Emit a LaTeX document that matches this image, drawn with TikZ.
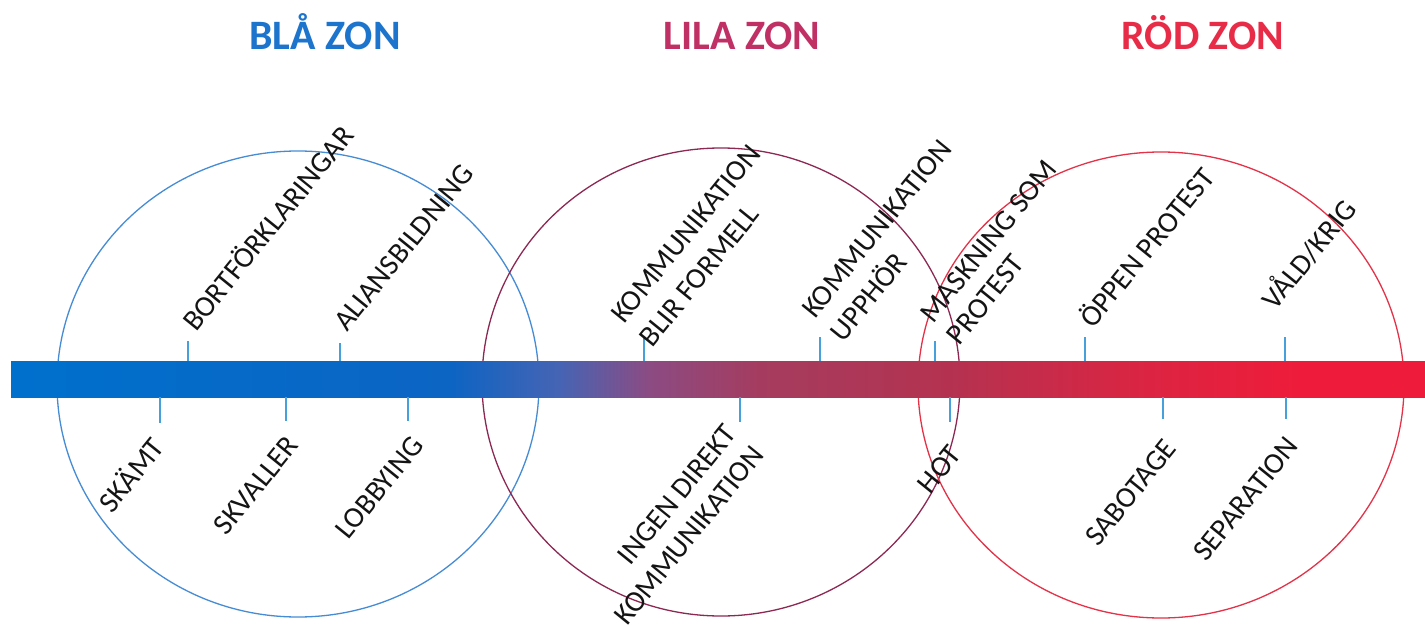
\documentclass[tikz,border=0pt]{standalone}
\usepackage{fontspec}
\setmainfont{Carlito}
\definecolor{blatitle}{RGB}{28,116,204}
\definecolor{lilatitle}{RGB}{192,48,100}
\definecolor{rodtitle}{RGB}{232,44,72}
\definecolor{bluecirc}{RGB}{70,140,212}
\definecolor{lilacirc}{RGB}{140,40,82}
\definecolor{redcirc}{RGB}{228,50,72}
\definecolor{tickcol}{RGB}{70,160,220}
\definecolor{labelcol}{RGB}{20,20,20}
\definecolor{g0}{RGB}{0,112,205}
\definecolor{g1}{RGB}{12,100,195}
\definecolor{g2}{RGB}{70,100,180}
\definecolor{g3}{RGB}{140,75,130}
\definecolor{g4}{RGB}{165,60,95}
\definecolor{g5}{RGB}{180,50,80}
\definecolor{g6}{RGB}{220,36,66}
\definecolor{g7}{RGB}{238,28,58}
\pgfdeclarehorizontalshading{zonebar}{100bp}{color(0bp)=(g0); color(25bp)=(g0); color(40.5bp)=(g1); color(44.4bp)=(g2); color(47.6bp)=(g3); color(51.5bp)=(g4); color(58.2bp)=(g5); color(65.3bp)=(g6); color(70.6bp)=(g7); color(75bp)=(g7); color(100bp)=(g7)}
\begin{document}
\begin{tikzpicture}[x=1bp,y=-1bp,
  lbl/.style={font=\fontsize{29.5}{35}\selectfont, text=labelcol, inner sep=0pt, rotate=51},
  zonetitle/.style={font=\fontsize{42}{50}\selectfont\bfseries, anchor=base, inner sep=0pt},
  tickline/.style={draw=tickcol, line width=1.8bp},
  zone/.style={line width=1.3bp}]
\useasboundingbox[fill=white] (0,0) rectangle (1425,627);

% titles
\node[zonetitle, text=blatitle] (tbla) at (325,50) {BLÅ ZON};
\node[zonetitle, text=lilatitle] (tlila) at (742,50) {LILA ZON};
\node[zonetitle, text=rodtitle] (trod) at (1203,50) {RÖD ZON};

% zone circles
\draw[zone, draw=bluecirc] (298,384) ellipse [x radius=241, y radius=233];
\draw[zone, draw=lilacirc] (721,382) ellipse [x radius=239, y radius=234];
\draw[zone, draw=redcirc] (1161,385) ellipse [x radius=243, y radius=233];

% bar
\shade[shading=zonebar] (11,361) rectangle (1425,397);

% ticks above
\foreach \x/\t [count=\i] in {188/341, 340/343, 644/337, 820/337, 935/341, 1085/337, 1285/337}{
  \coordinate (ua\i) at (\x,361);
  \coordinate (ub\i) at (\x,\t);
  \draw[tickline] (ua\i) -- (ub\i);
}
% ticks below
\foreach \x/\t [count=\i] in {160/423, 286/421, 408/421, 740/422, 950/422, 1163/419, 1286/419}{
  \coordinate (da\i) at (\x,397);
  \coordinate (db\i) at (\x,\t);
  \draw[tickline] (da\i) -- (db\i);
}

% labels above the bar
\node[lbl, anchor=base west] (bort) at (196,333) {BORTFÖRKLARINGAR};
\node[lbl, anchor=base west] (allians) at (347,333) {ALIANSBILDNING};
\node[lbl, anchor=base west] (formA) at (624,325) {KOMMUNIKATION};
\node[lbl, anchor=base west] (formB) at ([shift={(-39:37bp)}]formA.base west) {BLIR FORMELL};
\node[lbl, anchor=base west] (uppA) at (815,320) {KOMMUNIKATION};
\node[lbl, anchor=base west] (uppB) at ([shift={(-39:37bp)}]uppA.base west) {UPPHÖR};
\node[lbl, anchor=base west] (maskA) at (933,325) {MASKNING SOM};
\node[lbl, anchor=base west] (maskB) at ([shift={(-39:34bp)}]maskA.base west) {PROTEST};
\node[lbl, anchor=base west] (oppen) at (1093,330) {ÖPPEN PROTEST};
\node[lbl, anchor=base west] (vald) at (1275,312) {VÅLD/KRIG};

% labels below the bar
\node[lbl, anchor=base east] (skamt) at (166,448) {SKÄMT};
\node[lbl, anchor=base east] (skvaller) at (300,446) {SKVALLER};
\node[lbl, anchor=base east] (lobby) at (425,446) {LOBBYING};
\node[lbl, anchor=base east] (ingenA) at (738,434) {INGEN DIREKT};
\node[lbl, anchor=base east] (ingenB) at ([shift={(-39:35bp)}]ingenA.base east) {KOMMUNIKATION};
\node[lbl, anchor=base east] (hot) at (963,455) {HOT};
\node[lbl, anchor=base east] (sabo) at (1178,449) {SABOTAGE};
\node[lbl, anchor=base east] (sep) at (1300,447) {SEPARATION};
\end{tikzpicture}
\end{document}
